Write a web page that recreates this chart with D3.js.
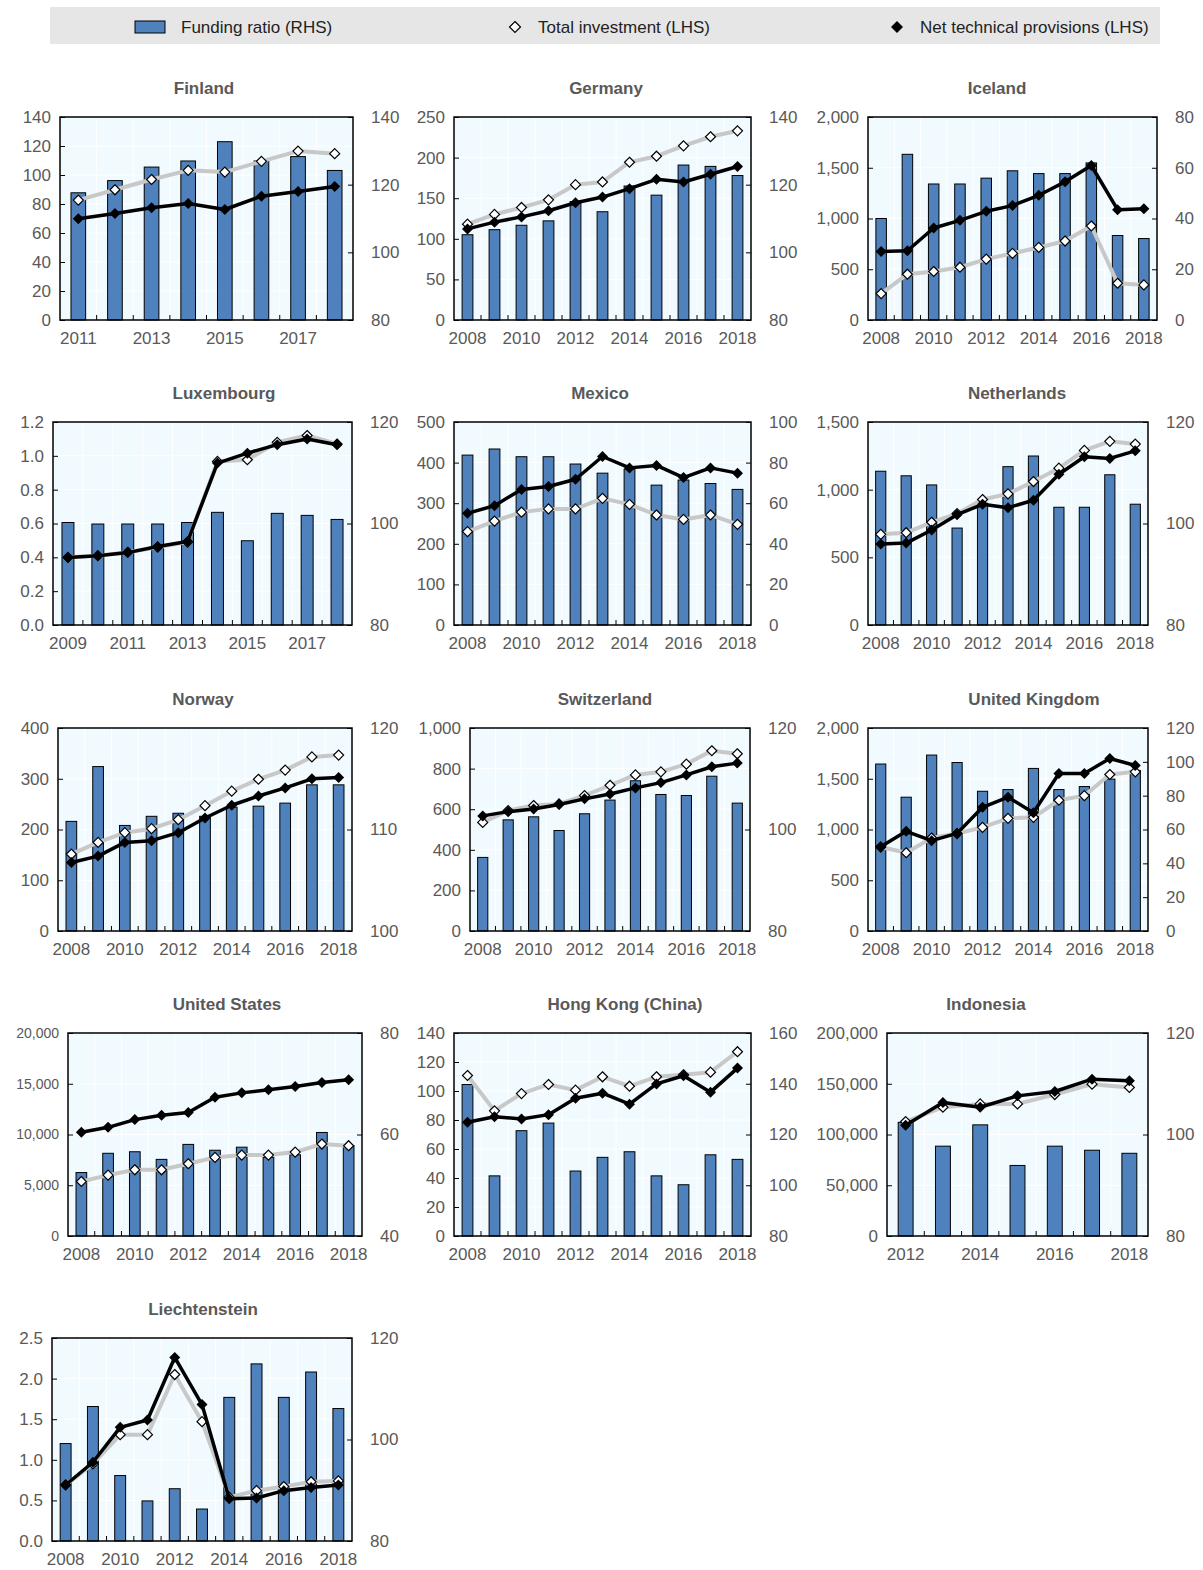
<!DOCTYPE html>
<html><head><meta charset="utf-8">
<script src="https://cdn.jsdelivr.net/npm/d3@7"></script>
<style>
body{margin:0;background:#fff;}
svg{display:block;font-family:"Liberation Sans",Arial,sans-serif;}
</style>
</head><body>
<svg id="chart" width="1203" height="1570"></svg>
<script>
// ---------------- DATA ----------------
const countries = ["Finland","Germany","Iceland","Luxembourg","Mexico","Netherlands","Norway","Switzerland","United Kingdom","United States","Hong Kong (China)","Indonesia","Liechtenstein"];
const legendLabels = ["Funding ratio (RHS)","Total investment (LHS)","Net technical provisions (LHS)"];

const years0818 = ["2008","2009","2010","2011","2012","2013","2014","2015","2016","2017","2018"];
const years1118 = ["2011","2012","2013","2014","2015","2016","2017","2018"];
const years0918 = ["2009","2010","2011","2012","2013","2014","2015","2016","2017","2018"];
const years1218 = ["2012","2013","2014","2015","2016","2017","2018"];

// Finland
const fundFinland = [117.6,121.2,125.2,127.0,132.7,127.0,128.3,124.2];
const invFinland  = [82.7,89.8,96.9,103.2,102.0,109.4,116.5,114.7];
const ntpFinland  = [69.8,73.5,77.4,80.4,76.2,85.4,88.6,92.1];
const leftFinland = ["0","20","40","60","80","100","120","140"];
const rightFinland = ["80","100","120","140"];
// Germany
const fundGermany = [105.2,106.7,108.0,109.3,115.0,112.0,119.6,116.9,125.8,125.4,122.7];
const invGermany  = [118,130,138.6,148,166.7,170,194.3,201.7,214.5,225.7,233];
const ntpGermany  = [112.2,120.5,127,134.5,144.4,151.4,161.7,173.3,170,179.5,189];
const leftGermany = ["0","50","100","150","200","250"];
const rightGermany = ["80","100","120","140"];
// Iceland
const fundIceland = [40,65.3,53.6,53.6,55.9,58.8,57.7,57.7,61.9,33.3,32.1];
const invIceland  = [260,451,478,520,600,656,715,778,926,362,346];
const ntpIceland  = [675,682,906,982,1071,1127,1229,1361,1522,1087,1097];
const leftIceland = ["0","500","1,000","1,500","2,000"];
const rightIceland = ["0","20","40","60","80"];
// Luxembourg
const fundLuxembourg = [100.2,99.9,99.9,99.9,100.2,102.2,96.6,102.0,101.6,100.8];
const invLuxembourg  = [0.40,0.41,0.43,0.46,0.49,0.967,0.977,1.08,1.12,1.07];
const ntpLuxembourg  = [0.399,0.41,0.428,0.464,0.493,0.957,1.016,1.066,1.10,1.066];
const leftLuxembourg = ["0.0","0.2","0.4","0.6","0.8","1.0","1.2"];
const rightLuxembourg = ["80","100","120"];
// Mexico
const fundMexico = [83.7,86.7,82.9,82.9,79.3,74.8,76.8,68.9,71.4,69.7,66.8];
const invMexico  = [230,256,278,286,286,312,297,271,260,271,248];
const ntpMexico  = [275,294,334,341,359,415,387,393,363,387,374];
const leftMexico = ["0","100","200","300","400","500"];
const rightMexico = ["0","20","40","60","80","100"];
// Netherlands
const fundNetherlands = [110.3,109.4,107.6,99.1,104.0,111.2,113.3,103.2,103.2,109.6,103.8];
const invNetherlands  = [670,682,759,823,927,969,1060,1159,1290,1357,1337];
const ntpNetherlands  = [598,605,702,815,892,867,922,1114,1243,1231,1287];
const leftNetherlands = ["0","500","1,000","1,500"];
const rightNetherlands = ["80","100","120"];
// Norway
const fundNorway = [110.8,116.2,110.4,111.3,111.6,111.3,112.2,112.3,112.6,114.4,114.4];
const invNorway  = [151.6,174.6,193.7,201.6,219.4,247,275.5,299,317,343,346.6];
const ntpNorway  = [135,147.6,174.6,178,193.7,222.7,247.8,266,282,299.8,302.5];
const leftNorway = ["0","100","200","300","400"];
const rightNorway = ["100","110","120"];
// Switzerland
const fundSwitzerland = [94.5,101.9,102.5,99.8,103.1,105.8,109.6,106.9,106.7,110.5,105.2];
const invSwitzerland  = [535,593,618,626,667,718,769,784,822,888,873];
const ntpSwitzerland  = [567,588,601,623,651,675,705,731,769,809,827];
const leftSwitzerland = ["0","200","400","600","800","1,000"];
const rightSwitzerland = ["80","100","120"];
// United Kingdom
const fundUK = [98.7,79.1,104.0,99.6,82.6,83.6,96.1,83.6,85.4,89.8,94.9];
const invUK  = [827,771,916,960,1021,1110,1120,1288,1334,1542,1568];
const ntpUK  = [830,982,890,962,1219,1318,1166,1552,1552,1700,1631];
const leftUK = ["0","500","1,000","1,500","2,000"];
const rightUK = ["0","20","40","60","80","100","120"];
// United States
const fundUS = [52.5,56.3,56.6,55.1,58.05,56.9,57.5,55.5,56.0,60.4,57.8];
const invUS  = [5371,5997,6524,6524,7117,7743,7974,7974,8270,9061,8896];
const ntpUS  = [10214,10708,11466,11895,12158,13674,14102,14399,14728,15124,15387];
const leftUS = ["0","5,000","10,000","15,000","20,000"];
const rightUS = ["40","60","80"];
// Hong Kong (China)
const fundHK = [139.7,103.7,121.5,124.5,105.6,111.0,113.2,103.7,100.2,112.0,110.2];
const invHK  = [110.7,86.3,98.2,104.5,100.6,109.8,103.3,109.8,111.2,113.0,127.1];
const ntpHK  = [78.4,82.3,80.7,83.7,95.0,98.5,90.9,104.9,110.5,99.2,115.8];
const leftHK = ["0","20","40","60","80","100","120","140"];
const rightHK = ["80","100","120","140","160"];
// Indonesia
const fundIndonesia = [102.4,97.7,101.9,93.9,97.7,96.9,96.3];
const invIndonesia  = [112685,126853,130148,130148,139374,149588,146293];
const ntpIndonesia  = [109061,131466,126853,138056,142339,154530,152883];
const leftIndonesia = ["0","50,000","100,000","150,000","200,000"];
const rightIndonesia = ["80","100","120"];
// Liechtenstein
const fundLiechtenstein = [99.2,106.5,92.9,87.9,90.3,86.3,108.3,114.9,108.3,113.3,106.1];
const invLiechtenstein  = [0.69,0.95,1.31,1.31,2.05,1.47,0.54,0.62,0.67,0.73,0.74];
const ntpLiechtenstein  = [0.69,0.97,1.40,1.49,2.26,1.68,0.52,0.53,0.62,0.66,0.69];
const leftLiechtenstein = ["0.0","0.5","1.0","1.5","2.0","2.5"];
const rightLiechtenstein = ["80","100","120"];

// table built from the arrays
const panels = [
  {years:years1118, fund:fundFinland, inv:invFinland, ntp:ntpFinland, left:leftFinland, right:rightFinland},
  {years:years0818, fund:fundGermany, inv:invGermany, ntp:ntpGermany, left:leftGermany, right:rightGermany},
  {years:years0818, fund:fundIceland, inv:invIceland, ntp:ntpIceland, left:leftIceland, right:rightIceland},
  {years:years0918, fund:fundLuxembourg, inv:invLuxembourg, ntp:ntpLuxembourg, left:leftLuxembourg, right:rightLuxembourg},
  {years:years0818, fund:fundMexico, inv:invMexico, ntp:ntpMexico, left:leftMexico, right:rightMexico},
  {years:years0818, fund:fundNetherlands, inv:invNetherlands, ntp:ntpNetherlands, left:leftNetherlands, right:rightNetherlands},
  {years:years0818, fund:fundNorway, inv:invNorway, ntp:ntpNorway, left:leftNorway, right:rightNorway},
  {years:years0818, fund:fundSwitzerland, inv:invSwitzerland, ntp:ntpSwitzerland, left:leftSwitzerland, right:rightSwitzerland},
  {years:years0818, fund:fundUK, inv:invUK, ntp:ntpUK, left:leftUK, right:rightUK},
  {years:years0818, fund:fundUS, inv:invUS, ntp:ntpUS, left:leftUS, right:rightUS},
  {years:years0818, fund:fundHK, inv:invHK, ntp:ntpHK, left:leftHK, right:rightHK},
  {years:years1218, fund:fundIndonesia, inv:invIndonesia, ntp:ntpIndonesia, left:leftIndonesia, right:rightIndonesia},
  {years:years0818, fund:fundLiechtenstein, inv:invLiechtenstein, ntp:ntpLiechtenstein, left:leftLiechtenstein, right:rightLiechtenstein}
].map((p,i)=>Object.assign({name:countries[i]}, p));

// ---------------- LAYOUT ----------------
const PH = 203;
const layout = [
  {x0:60,  x1:353,  y0:117,  tx:204},
  {x0:454, x1:751,  y0:117,  tx:606},
  {x0:868, x1:1157, y0:117,  tx:997},
  {x0:53,  x1:352,  y0:422,  tx:224},
  {x0:454, x1:751,  y0:422,  tx:600},
  {x0:868, x1:1148, y0:422,  tx:1017},
  {x0:58,  x1:352,  y0:728,  tx:203},
  {x0:470, x1:750,  y0:728,  tx:605},
  {x0:868, x1:1148, y0:728,  tx:1034},
  {x0:68,  x1:362,  y0:1033, tx:227, leftSize:14},
  {x0:454, x1:751,  y0:1033, tx:625},
  {x0:887, x1:1148, y0:1033, tx:986},
  {x0:52,  x1:352,  y0:1338, tx:203}
];

const TEXT = "#595959";
const BAR = "#4f81bd";
const BG = "#f0faff";
const INV = "#c8c8c8";

const svg = d3.select("#chart");
const num = s => +String(s).replace(/,/g,"");
const diamond = r => `M0,${-r}L${r},0L0,${r}L${-r},0Z`;

// ---------------- LEGEND ----------------
const lg = svg.append("g");
lg.append("rect").attr("x",50).attr("y",7).attr("width",1110).attr("height",37).attr("fill","#e6e6e6");
lg.append("rect").attr("x",135).attr("y",21).attr("width",30).attr("height",12)
  .attr("fill",BAR).attr("stroke","#000").attr("stroke-width",1);
lg.append("path").attr("d",diamond(5.5)).attr("transform","translate(515,27)")
  .attr("fill","#fff").attr("stroke","#000").attr("stroke-width",1.2);
lg.append("path").attr("d",diamond(6)).attr("transform","translate(897,27)").attr("fill","#000");
const legX = [181,538,920];
lg.selectAll("text.leg").data(legendLabels).join("text").attr("class","leg")
  .attr("x",(d,i)=>legX[i]).attr("y",27).attr("dy","0.35em")
  .attr("font-size",17).attr("fill","#222").text(d=>d);

// ---------------- PANELS ----------------
panels.forEach((p,i)=>{
  const L = layout[i];
  const yb = L.y0 + PH;
  const g = svg.append("g");
  const x = d3.scaleBand().domain(p.years).range([L.x0, L.x1]);
  const cx = d => x(d) + x.bandwidth()/2;
  const lv = p.left.map(num), rv = p.right.map(num);
  const yL = d3.scaleLinear().domain([lv[0], lv[lv.length-1]]).range([yb, L.y0]);
  const yR = d3.scaleLinear().domain([rv[0], rv[rv.length-1]]).range([yb, L.y0]);

  g.append("rect").attr("x",L.x0).attr("y",L.y0).attr("width",L.x1-L.x0).attr("height",PH).attr("fill",BG);

  // grid
  g.selectAll("line.vg").data(p.years.slice(1)).join("line").attr("class","vg")
    .attr("x1",d=>x(d)).attr("x2",d=>x(d)).attr("y1",L.y0).attr("y2",yb)
    .attr("stroke","#fff").attr("stroke-width",1);
  g.selectAll("line.hg").data(lv.slice(1,-1)).join("line").attr("class","hg")
    .attr("x1",L.x0).attr("x2",L.x1).attr("y1",d=>yL(d)).attr("y2",d=>yL(d))
    .attr("stroke","#fff").attr("stroke-width",1);

  // bars (RHS)
  const bw = x.bandwidth()*0.4;
  g.selectAll("rect.bar").data(p.years.map((y,j)=>({y, v:p.fund[j]}))).join("rect").attr("class","bar")
    .attr("x",d=>cx(d.y)-bw/2).attr("y",d=>yR(d.v)).attr("width",bw).attr("height",d=>yb-yR(d.v))
    .attr("fill",BAR).attr("stroke","#000").attr("stroke-width",1);

  // total investment (LHS)
  const invData = p.years.map((y,j)=>({y, v:p.inv[j]}));
  const ntpData = p.years.map((y,j)=>({y, v:p.ntp[j]}));
  const line = d3.line().x(d=>cx(d.y)).y(d=>yL(d.v));
  g.append("path").datum(invData).attr("d",line).attr("fill","none")
    .attr("stroke",INV).attr("stroke-width",4).attr("stroke-linejoin","round");
  g.selectAll("path.im").data(invData).join("path").attr("class","im")
    .attr("d",diamond(5)).attr("transform",d=>`translate(${cx(d.y)},${yL(d.v)})`)
    .attr("fill","#fff").attr("stroke","#000").attr("stroke-width",1.2);
  // net technical provisions (LHS)
  g.append("path").datum(ntpData).attr("d",line).attr("fill","none")
    .attr("stroke","#000").attr("stroke-width",3.5).attr("stroke-linejoin","round");
  g.selectAll("path.nm").data(ntpData).join("path").attr("class","nm")
    .attr("d",diamond(5.5)).attr("transform",d=>`translate(${cx(d.y)},${yL(d.v)})`)
    .attr("fill","#000");

  // frame
  g.append("rect").attr("x",L.x0).attr("y",L.y0).attr("width",L.x1-L.x0).attr("height",PH)
    .attr("fill","none").attr("stroke","#000").attr("stroke-width",1.5);

  // bottom inner ticks at category boundaries
  g.selectAll("line.bt").data(p.years.slice(1)).join("line").attr("class","bt")
    .attr("x1",d=>x(d)).attr("x2",d=>x(d)).attr("y1",yb).attr("y2",yb-5)
    .attr("stroke","#000").attr("stroke-width",1);

  // axes
  const ax = d3.axisLeft(yL).tickValues(lv).tickFormat((d,k)=>p.left[k]).tickSize(-5).tickPadding(9);
  const ga = g.append("g").attr("transform",`translate(${L.x0},0)`).call(ax);
  ga.select(".domain").remove();
  ga.selectAll("line").attr("stroke","#000");
  ga.selectAll("text").attr("font-size",L.leftSize||17).attr("fill",TEXT).attr("font-family",null);

  const ar = d3.axisRight(yR).tickValues(rv).tickFormat((d,k)=>p.right[k]).tickSize(-5).tickPadding(18);
  const gr = g.append("g").attr("transform",`translate(${L.x1},0)`).call(ar);
  gr.select(".domain").remove();
  gr.selectAll("line").attr("stroke","#000");
  gr.selectAll("text").attr("font-size",17).attr("fill",TEXT).attr("font-family",null);

  const ab = d3.axisBottom(x).tickValues(p.years.filter((d,k)=>k%2===0)).tickSize(0).tickPadding(12);
  const gb = g.append("g").attr("transform",`translate(0,${yb})`).call(ab);
  gb.select(".domain").remove();
  gb.selectAll("text").attr("font-size",17).attr("fill",TEXT).attr("font-family",null);

  // title
  g.append("text").attr("x",L.tx).attr("y",L.y0-29).attr("dy","0.35em").attr("text-anchor","middle")
    .attr("font-size",17).attr("font-weight","bold").attr("fill",TEXT).text(p.name);
});
</script>
</body></html>
